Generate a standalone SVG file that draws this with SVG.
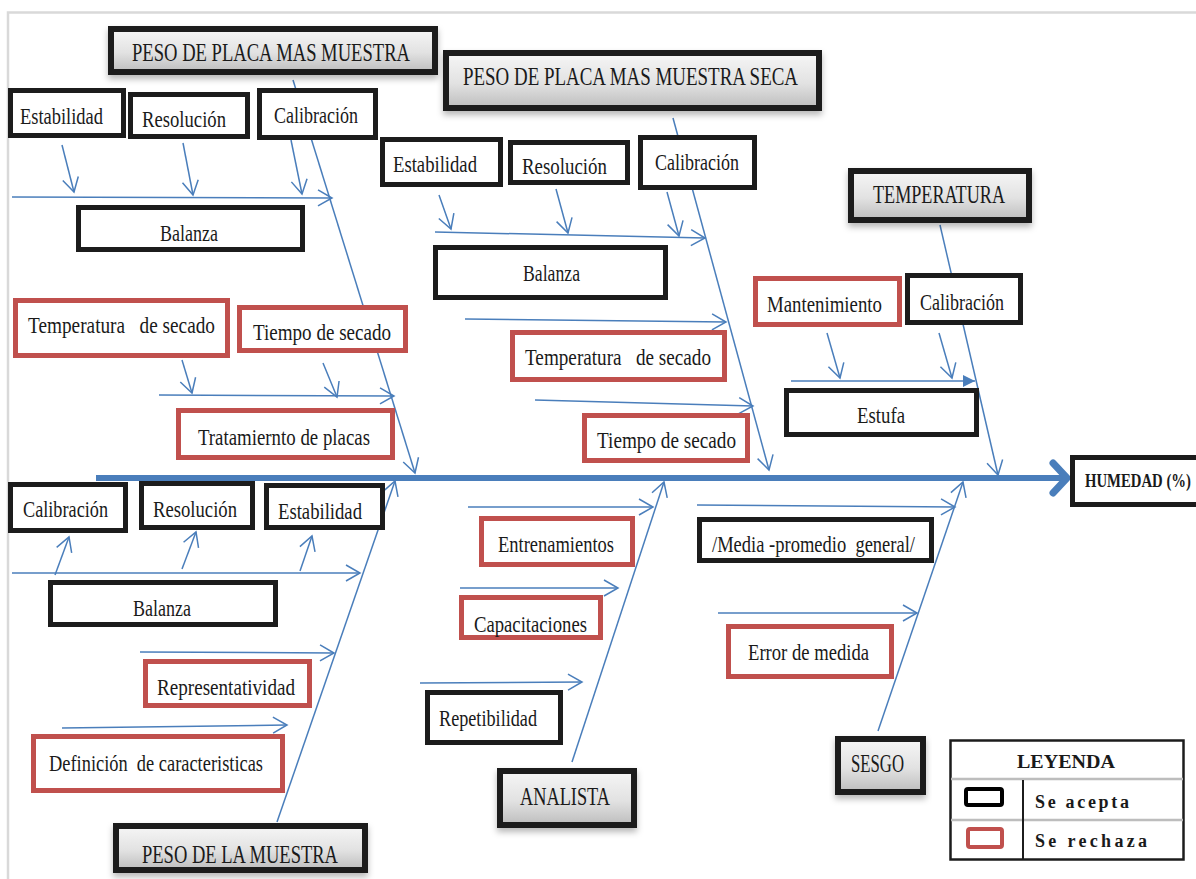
<svg xmlns="http://www.w3.org/2000/svg" width="1196" height="879" viewBox="0 0 1196 879">
  <defs>
    <linearGradient id="headFill" x1="0" y1="0" x2="0" y2="1">
      <stop offset="0" stop-color="#f6f6f6"/>
      <stop offset="0.55" stop-color="#e2e2e2"/>
      <stop offset="1" stop-color="#bdbdbd"/>
    </linearGradient>
    <filter id="shadow" x="-10%" y="-20%" width="120%" height="160%">
      <feDropShadow dx="0" dy="4" stdDeviation="3" flood-color="#000" flood-opacity="0.28"/>
    </filter>
    <marker id="open" markerUnits="userSpaceOnUse" markerWidth="18" markerHeight="20" viewBox="0 0 18 20" refX="15" refY="10" orient="auto">
      <path d="M1,2 L15,10 L1,18" fill="none" stroke="#4a7ebb" stroke-width="1.5"/>
    </marker>
    <marker id="solid" markerUnits="userSpaceOnUse" markerWidth="14" markerHeight="14" viewBox="0 0 14 14" refX="12" refY="7" orient="auto">
      <path d="M0,1 L12,7 L0,13 Z" fill="#4a7ebb"/>
    </marker>
    <style>
      .ok { fill: #ffffff; stroke: #1c1c1c; stroke-width: 5; }
      .ko { fill: #ffffff; stroke: #c0504d; stroke-width: 5; }
      .head { fill: url(#headFill); stroke: #1c1c1c; stroke-width: 6; filter: url(#shadow); }
      .t { font-family: "Liberation Serif", "Times New Roman", serif; font-size: 24px; fill: #1a1a1a; }
      .th { font-family: "Liberation Serif", "Times New Roman", serif; font-size: 26px; fill: #1a1a1a; }
      .tb { font-family: "Liberation Serif", "Times New Roman", serif; font-weight: bold; fill: #1a1a1a; }
      .ln { fill: none; stroke: #4a7ebb; stroke-width: 1.5; marker-end: url(#open); }
      .rib { fill: none; stroke: #4a7ebb; stroke-width: 1.5; marker-end: url(#open); }
    </style>
  </defs>

  <rect width="1196" height="879" fill="#ffffff"/>
  <!-- page frame -->
  <path d="M8,879 L8,12.5 L1196,12.5" fill="none" stroke="#d9d9d9" stroke-width="2.5"/>

  <g id="connectors">
    <!-- main spine -->
    <line x1="96" y1="478" x2="1064" y2="478" stroke="#4a7ebb" stroke-width="6"/>
    <path d="M1053,463 L1067,478 L1053,493" fill="none" stroke="#4a7ebb" stroke-width="7" stroke-linecap="round" stroke-linejoin="round"/>

    <!-- ribs -->
    <line class="rib" x1="293" y1="80" x2="415" y2="473"/>
    <line class="rib" x1="673" y1="118" x2="769" y2="470"/>
    <line class="rib" x1="940" y1="225" x2="998" y2="475"/>
    <line class="rib" x1="277" y1="822" x2="395" y2="481"/>
    <line class="rib" x1="572" y1="762" x2="664" y2="482"/>
    <line class="rib" x1="878" y1="731" x2="963" y2="482"/>

    <!-- PESO DE PLACA MAS MUESTRA -->
    <line class="ln" x1="62" y1="145" x2="74" y2="192"/>
    <line class="ln" x1="183" y1="143" x2="193" y2="195"/>
    <line class="ln" x1="291" y1="140" x2="302" y2="194"/>
    <line class="ln" x1="12" y1="197" x2="332" y2="198"/>
    <line class="ln" x1="182" y1="360" x2="192" y2="393"/>
    <line class="ln" x1="323" y1="363" x2="337" y2="397"/>
    <line class="ln" x1="159" y1="395" x2="394" y2="396"/>

    <!-- PESO DE PLACA MAS MUESTRA SECA -->
    <line class="ln" x1="439" y1="195" x2="451" y2="229"/>
    <line class="ln" x1="556" y1="189" x2="568" y2="233"/>
    <line class="ln" x1="667" y1="192" x2="679" y2="236"/>
    <line class="ln" x1="435" y1="232" x2="705" y2="238"/>
    <line class="ln" x1="465" y1="319" x2="726" y2="322"/>
    <line class="ln" x1="535" y1="400" x2="753" y2="406"/>

    <!-- TEMPERATURA -->
    <line class="ln" x1="827" y1="333" x2="840" y2="378"/>
    <line class="ln" x1="939" y1="333" x2="952" y2="378"/>
    <line x1="791" y1="381" x2="975" y2="381" fill="none" stroke="#4a7ebb" stroke-width="1.5" marker-end="url(#solid)"/>

    <!-- PESO DE LA MUESTRA -->
    <line class="ln" x1="55" y1="575" x2="69" y2="537"/>
    <line class="ln" x1="182" y1="569" x2="196" y2="532"/>
    <line class="ln" x1="300" y1="571" x2="312" y2="536"/>
    <line class="ln" x1="12" y1="573" x2="360" y2="573"/>
    <line class="ln" x1="140" y1="652" x2="334" y2="653"/>
    <line class="ln" x1="62" y1="728" x2="287" y2="725"/>

    <!-- ANALISTA -->
    <line class="ln" x1="468" y1="507" x2="653" y2="507"/>
    <line class="ln" x1="460" y1="588" x2="618" y2="588"/>
    <line class="ln" x1="420" y1="683" x2="582" y2="682"/>

    <!-- SESGO -->
    <line class="ln" x1="697" y1="505" x2="955" y2="507"/>
    <line class="ln" x1="718" y1="613" x2="917" y2="613"/>
  </g>

  <!-- category heads -->
  <g id="head-placa-muestra">
    <rect class="head" x="111" y="29" width="324" height="43"/>
    <text class="th" x="132" y="61" textLength="278" lengthAdjust="spacingAndGlyphs">PESO DE PLACA MAS MUESTRA</text>
  </g>
  <g id="head-placa-seca">
    <rect class="head" x="446" y="53" width="373" height="55"/>
    <text class="th" x="463" y="85" textLength="335" lengthAdjust="spacingAndGlyphs">PESO DE PLACA MAS MUESTRA SECA</text>
  </g>
  <g id="head-temperatura">
    <rect class="head" x="851" y="171" width="178" height="49"/>
    <text class="th" x="873" y="203" textLength="132" lengthAdjust="spacingAndGlyphs">TEMPERATURA</text>
  </g>
  <g id="head-analista">
    <rect class="head" x="500" y="771" width="134" height="54"/>
    <text class="th" x="520" y="805" textLength="90" lengthAdjust="spacingAndGlyphs">ANALISTA</text>
  </g>
  <g id="head-sesgo">
    <rect class="head" x="838" y="739" width="85" height="53"/>
    <text class="th" x="851" y="772" textLength="53" lengthAdjust="spacingAndGlyphs">SESGO</text>
  </g>
  <g id="head-muestra">
    <rect class="head" x="116" y="826" width="249" height="44"/>
    <text class="th" x="142" y="863" textLength="196" lengthAdjust="spacingAndGlyphs">PESO DE LA MUESTRA</text>
  </g>

  <!-- effect box, its right side runs off the page -->
  <g id="effect-humedad">
    <rect x="1072.5" y="457.5" width="123.5" height="47" fill="#ffffff"/>
    <path d="M1196,457.5 H1072.5 V504.5 H1196" fill="none" stroke="#1c1c1c" stroke-width="5"/>
    <text class="tb" transform="translate(1085,487) scale(1,1.3)" x="0" y="0" font-size="15" textLength="106" lengthAdjust="spacingAndGlyphs">HUMEDAD (%)</text>
  </g>

  <!-- causes: PESO DE PLACA MAS MUESTRA -->
  <g id="estabilidad-1">
    <rect class="ok" x="10.5" y="90.5" width="113" height="45"/>
    <text class="t" x="20" y="124" textLength="83" lengthAdjust="spacingAndGlyphs">Estabilidad</text>
  </g>
  <g id="resolucion-1">
    <rect class="ok" x="130.5" y="94.5" width="117" height="42"/>
    <text class="t" x="142" y="127" textLength="84" lengthAdjust="spacingAndGlyphs">Resolución</text>
  </g>
  <g id="calibracion-1">
    <rect class="ok" x="259.5" y="90.5" width="116" height="47"/>
    <text class="t" x="274" y="123" textLength="84" lengthAdjust="spacingAndGlyphs">Calibración</text>
  </g>
  <g id="balanza-1">
    <rect class="ok" x="78.5" y="207.5" width="224" height="42"/>
    <text class="t" x="160" y="241" textLength="58" lengthAdjust="spacingAndGlyphs">Balanza</text>
  </g>
  <g id="temp-secado-1">
    <rect class="ko" x="15.5" y="300.5" width="212" height="55"/>
    <text class="t" x="28" y="333" textLength="187" lengthAdjust="spacingAndGlyphs" xml:space="preserve">Temperatura   de secado</text>
  </g>
  <g id="tiempo-secado-1">
    <rect class="ko" x="239.5" y="307.5" width="166" height="43"/>
    <text class="t" x="253" y="340" textLength="138" lengthAdjust="spacingAndGlyphs">Tiempo de secado</text>
  </g>
  <g id="tratamiento-placas">
    <rect class="ko" x="178.5" y="410.5" width="214" height="47"/>
    <text class="t" x="198" y="445" textLength="172" lengthAdjust="spacingAndGlyphs">Tratamiernto de placas</text>
  </g>

  <!-- causes: PESO DE PLACA MAS MUESTRA SECA -->
  <g id="estabilidad-2">
    <rect class="ok" x="382.5" y="139.5" width="118" height="45"/>
    <text class="t" x="393" y="172" textLength="84" lengthAdjust="spacingAndGlyphs">Estabilidad</text>
  </g>
  <g id="resolucion-2">
    <rect class="ok" x="510.5" y="142.5" width="117" height="40"/>
    <text class="t" x="522" y="174" textLength="85" lengthAdjust="spacingAndGlyphs">Resolución</text>
  </g>
  <g id="calibracion-2">
    <rect class="ok" x="640.5" y="137.5" width="114" height="50"/>
    <text class="t" x="655" y="170" textLength="84" lengthAdjust="spacingAndGlyphs">Calibración</text>
  </g>
  <g id="balanza-2">
    <rect class="ok" x="435.5" y="247.5" width="230" height="50"/>
    <text class="t" x="523" y="281" textLength="57" lengthAdjust="spacingAndGlyphs">Balanza</text>
  </g>
  <g id="temp-secado-2">
    <rect class="ko" x="512.5" y="332.5" width="212" height="47"/>
    <text class="t" x="525" y="365" textLength="186" lengthAdjust="spacingAndGlyphs" xml:space="preserve">Temperatura   de secado</text>
  </g>
  <g id="tiempo-secado-2">
    <rect class="ko" x="584.5" y="415.5" width="163" height="45"/>
    <text class="t" x="597" y="448" textLength="139" lengthAdjust="spacingAndGlyphs">Tiempo de secado</text>
  </g>

  <!-- causes: TEMPERATURA -->
  <g id="mantenimiento">
    <rect class="ko" x="755.5" y="278.5" width="144" height="46"/>
    <text class="t" x="767" y="312" textLength="115" lengthAdjust="spacingAndGlyphs">Mantenimiento</text>
  </g>
  <g id="calibracion-3">
    <rect class="ok" x="907.5" y="275.5" width="113" height="47"/>
    <text class="t" x="920" y="310" textLength="84" lengthAdjust="spacingAndGlyphs">Calibración</text>
  </g>
  <g id="estufa">
    <rect class="ok" x="786.5" y="390.5" width="190" height="44"/>
    <text class="t" x="857" y="423" textLength="48" lengthAdjust="spacingAndGlyphs">Estufa</text>
  </g>

  <!-- causes: PESO DE LA MUESTRA -->
  <g id="calibracion-4">
    <rect class="ok" x="10.5" y="484.5" width="115" height="46"/>
    <text class="t" x="23" y="517" textLength="85" lengthAdjust="spacingAndGlyphs">Calibración</text>
  </g>
  <g id="resolucion-4">
    <rect class="ok" x="141.5" y="483.5" width="111" height="44"/>
    <text class="t" x="153" y="517" textLength="84" lengthAdjust="spacingAndGlyphs">Resolución</text>
  </g>
  <g id="estabilidad-4">
    <rect class="ok" x="266.5" y="485.5" width="116" height="42"/>
    <text class="t" x="278" y="519" textLength="84" lengthAdjust="spacingAndGlyphs">Estabilidad</text>
  </g>
  <g id="balanza-4">
    <rect class="ok" x="50.5" y="582.5" width="225" height="42"/>
    <text class="t" x="133" y="616" textLength="58" lengthAdjust="spacingAndGlyphs">Balanza</text>
  </g>
  <g id="representatividad">
    <rect class="ko" x="145.5" y="661.5" width="164" height="44"/>
    <text class="t" x="157" y="695" textLength="138" lengthAdjust="spacingAndGlyphs">Representatividad</text>
  </g>
  <g id="definicion">
    <rect class="ko" x="33.5" y="736.5" width="249" height="54"/>
    <text class="t" x="49" y="771" textLength="214" lengthAdjust="spacingAndGlyphs" xml:space="preserve">Definición  de caracteristicas</text>
  </g>

  <!-- causes: ANALISTA -->
  <g id="entrenamientos">
    <rect class="ko" x="481.5" y="518.5" width="151" height="46"/>
    <text class="t" x="498" y="552" textLength="116" lengthAdjust="spacingAndGlyphs">Entrenamientos</text>
  </g>
  <g id="capacitaciones">
    <rect class="ko" x="461.5" y="597.5" width="139" height="40"/>
    <text class="t" x="474" y="632" textLength="113" lengthAdjust="spacingAndGlyphs">Capacitaciones</text>
  </g>
  <g id="repetibilidad">
    <rect class="ok" x="427.5" y="692.5" width="133" height="50"/>
    <text class="t" x="439" y="726" textLength="98" lengthAdjust="spacingAndGlyphs">Repetibilidad</text>
  </g>

  <!-- causes: SESGO -->
  <g id="media">
    <rect class="ok" x="699.5" y="519.5" width="232" height="41"/>
    <text class="t" x="712" y="552" textLength="203" lengthAdjust="spacingAndGlyphs" xml:space="preserve">/Media -promedio  general/</text>
  </g>
  <g id="error-medida">
    <rect class="ko" x="728.5" y="626.5" width="163" height="50"/>
    <text class="t" x="748" y="660" textLength="121" lengthAdjust="spacingAndGlyphs">Error de medida</text>
  </g>

  <!-- legend -->
  <g id="leyenda">
    <rect x="950.5" y="740.5" width="233" height="119" fill="#ffffff" stroke="#1c1c1c" stroke-width="2.5"/>
    <line x1="951" y1="779" x2="1183" y2="779" stroke="#bdbdbd" stroke-width="2.5"/>
    <line x1="951" y1="820" x2="1183" y2="820" stroke="#bdbdbd" stroke-width="2.5"/>
    <line x1="1023" y1="780" x2="1023" y2="859" stroke="#1c1c1c" stroke-width="2"/>
    <rect x="966" y="789" width="36" height="16" rx="2" fill="#ffffff" stroke="#000000" stroke-width="4"/>
    <rect x="968" y="829" width="34" height="18" rx="2" fill="#ffffff" stroke="#c0504d" stroke-width="4"/>
    <text class="tb" x="1017" y="768" font-size="18" textLength="98" lengthAdjust="spacingAndGlyphs">LEYENDA</text>
    <text class="tb" x="1035" y="808" font-size="18" textLength="94" lengthAdjust="spacing">Se acepta</text>
    <text class="tb" x="1035" y="847" font-size="18" textLength="112" lengthAdjust="spacing">Se rechaza</text>
  </g>
</svg>
